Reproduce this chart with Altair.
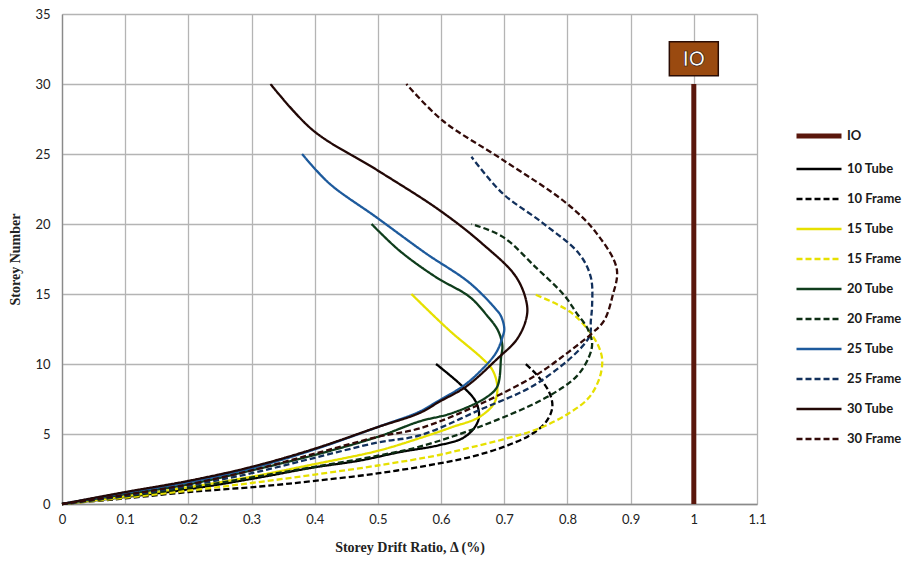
import altair as alt
import pandas as pd

series_names = ["IO", "10 Tube", "10 Frame", "15 Tube", "15 Frame", "20 Tube",
                "20 Frame", "25 Tube", "25 Frame", "30 Tube", "30 Frame"]
series_colors = ["#5a170c", "#000000", "#000000", "#e6e000", "#e6e000", "#0f3d1c",
                 "#0d2e14", "#1d5a9c", "#12305c", "#220806", "#320a08"]
series_dash = [[1, 0], [1, 0], [6, 3], [1, 0], [6, 3], [1, 0],
               [6, 3], [1, 0], [6, 3], [1, 0], [6, 3]]
series_width = [5, 2.3, 2.3, 2.3, 2.3, 2.3, 2.3, 2.3, 2.3, 2.3, 2.3]

# (drift %, storey)
io_drift = [1.0, 1.0]
io_storey = [0, 30]

t10_drift = [0, 0.1, 0.2, 0.313, 0.397, 0.471, 0.534, 0.597, 0.634, 0.652, 0.66, 0.655, 0.634, 0.592]
t10_storey = [0, 0.5, 1.05, 1.9, 2.6, 3.1, 3.7, 4.2, 4.7, 5.4, 6.2, 7.3, 8.4, 10]

f10_drift = [0, 0.1, 0.2, 0.313, 0.4, 0.502, 0.597, 0.65, 0.7, 0.74, 0.765, 0.776, 0.771, 0.752, 0.734]
f10_storey = [0, 0.4, 0.85, 1.25, 1.65, 2.2, 2.9, 3.4, 4.1, 4.9, 5.8, 6.9, 8.0, 9.2, 10]

t15_drift = [0, 0.1, 0.2, 0.3, 0.4, 0.5, 0.566, 0.618, 0.66, 0.684, 0.689, 0.681, 0.665, 0.613, 0.553]
t15_storey = [0, 0.55, 1.2, 1.95, 2.85, 3.8, 4.7, 5.5, 6.2, 7.2, 8.4, 9.6, 10.4, 12.4, 15]

f15_drift = [0, 0.1, 0.2, 0.3, 0.4, 0.5, 0.597, 0.634, 0.697, 0.755, 0.803, 0.834, 0.85, 0.855, 0.853, 0.84, 0.805, 0.747]
f15_storey = [0, 0.45, 0.95, 1.5, 2.1, 2.75, 3.5, 3.9, 4.6, 5.4, 6.5, 7.6, 8.9, 10.0, 10.8, 12.0, 13.7, 15]

t20_drift = [0, 0.1, 0.2, 0.3, 0.4, 0.5, 0.566, 0.618, 0.671, 0.689, 0.695, 0.697, 0.690, 0.672, 0.645, 0.592, 0.534, 0.49]
t20_storey = [0, 0.7, 1.4, 2.4, 3.5, 4.8, 5.9, 6.5, 7.6, 8.4, 10.5, 11.3, 12.4, 13.5, 14.8, 16.2, 18.1, 20]

f20_drift = [0, 0.1, 0.2, 0.3, 0.4, 0.5, 0.566, 0.66, 0.766, 0.814, 0.834, 0.839, 0.831, 0.815, 0.795, 0.75, 0.697, 0.648]
f20_storey = [0, 0.55, 1.15, 1.9, 2.65, 3.45, 4.1, 5.5, 7.6, 9.1, 10.5, 11.5, 12.6, 13.6, 14.9, 16.9, 19.1, 20]

t25_drift = [0, 0.1, 0.2, 0.3, 0.4, 0.5, 0.566, 0.597, 0.634, 0.66, 0.687, 0.697, 0.7, 0.695, 0.687, 0.645, 0.576, 0.497, 0.423, 0.38]
t25_storey = [0, 0.8, 1.55, 2.55, 3.9, 5.5, 6.6, 7.4, 8.4, 9.4, 10.8, 11.9, 12.5, 13.4, 13.9, 15.8, 17.9, 20.5, 22.9, 25]

f25_drift = [0, 0.1, 0.2, 0.3, 0.4, 0.5, 0.566, 0.66, 0.755, 0.834, 0.837, 0.839, 0.837, 0.818, 0.76, 0.697, 0.648]
f25_storey = [0, 0.6, 1.3, 2.2, 3.3, 4.4, 4.9, 6.7, 8.7, 11.9, 13.1, 14.2, 16.2, 17.9, 20.1, 22.2, 24.8]

t30_drift = [0, 0.1, 0.2, 0.3, 0.4, 0.5, 0.566, 0.597, 0.64, 0.692, 0.719, 0.734, 0.736, 0.719, 0.665, 0.597, 0.497, 0.397, 0.33]
t30_storey = [0, 0.85, 1.65, 2.65, 3.95, 5.5, 6.5, 7.3, 8.4, 10.5, 11.7, 13.1, 14.2, 16.2, 18.6, 21, 23.9, 26.7, 30]

f30_drift = [0, 0.1, 0.2, 0.3, 0.4, 0.5, 0.566, 0.66, 0.75, 0.80, 0.839, 0.858, 0.871, 0.878, 0.845, 0.798, 0.697, 0.602, 0.545]
f30_storey = [0, 0.65, 1.4, 2.4, 3.6, 4.8, 5.4, 7.1, 9.2, 10.8, 12.2, 13.1, 14.8, 16.8, 19.4, 21.5, 24.6, 27.4, 30]

io_label_x = [1.0]
io_label_y = [31.8]
io_label_text = ["IO"]

x_ticks = [0, 0.1, 0.2, 0.3, 0.4, 0.5, 0.6, 0.7, 0.8, 0.9, 1.0, 1.1]
y_ticks = [0, 5, 10, 15, 20, 25, 30, 35]

all_series = [
    ("IO", io_drift, io_storey),
    ("10 Tube", t10_drift, t10_storey),
    ("10 Frame", f10_drift, f10_storey),
    ("15 Tube", t15_drift, t15_storey),
    ("15 Frame", f15_drift, f15_storey),
    ("20 Tube", t20_drift, t20_storey),
    ("20 Frame", f20_drift, f20_storey),
    ("25 Tube", t25_drift, t25_storey),
    ("25 Frame", f25_drift, f25_storey),
    ("30 Tube", t30_drift, t30_storey),
    ("30 Frame", f30_drift, f30_storey),
]

rows = []
for name, xs, ys in all_series:
    for i, (xv, yv) in enumerate(zip(xs, ys)):
        rows.append({"series": name, "drift": xv, "storey": yv, "i": i})
df = pd.DataFrame(rows)

label_df = pd.DataFrame({"drift": io_label_x, "storey": io_label_y, "text": io_label_text})

x_scale = alt.Scale(domain=[0, 1.1], nice=False, zero=False)
y_scale = alt.Scale(domain=[0, 35], nice=False)

lines = alt.Chart(df).mark_line(interpolate="catmull-rom", strokeCap="butt").encode(
    x=alt.X("drift:Q", scale=x_scale,
            axis=alt.Axis(title="Storey Drift Ratio, Δ (%)", values=x_ticks, format="~g")),
    y=alt.Y("storey:Q", scale=y_scale,
            axis=alt.Axis(title="Storey Number", values=y_ticks)),
    color=alt.Color("series:N", scale=alt.Scale(domain=series_names, range=series_colors),
                    legend=alt.Legend(title=None)),
    strokeDash=alt.StrokeDash("series:N", scale=alt.Scale(domain=series_names, range=series_dash),
                              legend=alt.Legend(title=None)),
    strokeWidth=alt.StrokeWidth("series:N",
                                scale=alt.Scale(type="ordinal", domain=series_names, range=series_width),
                                legend=alt.Legend(title=None)),
    order="i:Q",
)

box_path = "M-1.44,-1L1.44,-1L1.44,1L-1.44,1Z"
box = alt.Chart(label_df).mark_point(
    shape=box_path, size=1156, filled=True, fill="#9a4a10", stroke="#2a0c04", strokeWidth=1.5, opacity=1
).encode(x=alt.X("drift:Q", scale=x_scale), y=alt.Y("storey:Q", scale=y_scale))

text = alt.Chart(label_df).mark_text(
    font="Lato", fontSize=20, fontWeight="bold", color="white", stroke="#2a0c04", strokeWidth=0.7,
    baseline="middle", align="center", dy=1
).encode(x=alt.X("drift:Q", scale=x_scale), y=alt.Y("storey:Q", scale=y_scale), text="text:N")

chart = alt.layer(lines, box, text).properties(
    width=695, height=490,
    autosize=alt.AutoSizeParams(type="none"),
    padding={"left": 62, "top": 14, "right": 153, "bottom": 58},
).configure_view(stroke=None).configure_axis(
    grid=True, gridColor="#b4b4b4", gridWidth=1.3, ticks=False, labelFlush=False,
    domainColor="#8a8a8a", domainWidth=1.3,
    labelFont="Lato", labelFontSize=13, labelColor="#222222",
    titleFont="Liberation Serif", titleFontSize=14, titleFontWeight="bold", titleColor="#222222",
).configure_axisX(labelPadding=9, titlePadding=14).configure_axisY(
    labelPadding=12, titlePadding=12
).configure_legend(
    orient="none", legendX=747, legendY=112, symbolType="M-3,0H3", symbolSize=225,
    labelFont="Lato", labelFontSize=13, labelFontWeight="bold",
    labelColor="#1a1a1a", rowPadding=14.0, labelOffset=18, padding=0,
)

chart.save("out.html", embed_options={"renderer": "svg", "actions": False})
